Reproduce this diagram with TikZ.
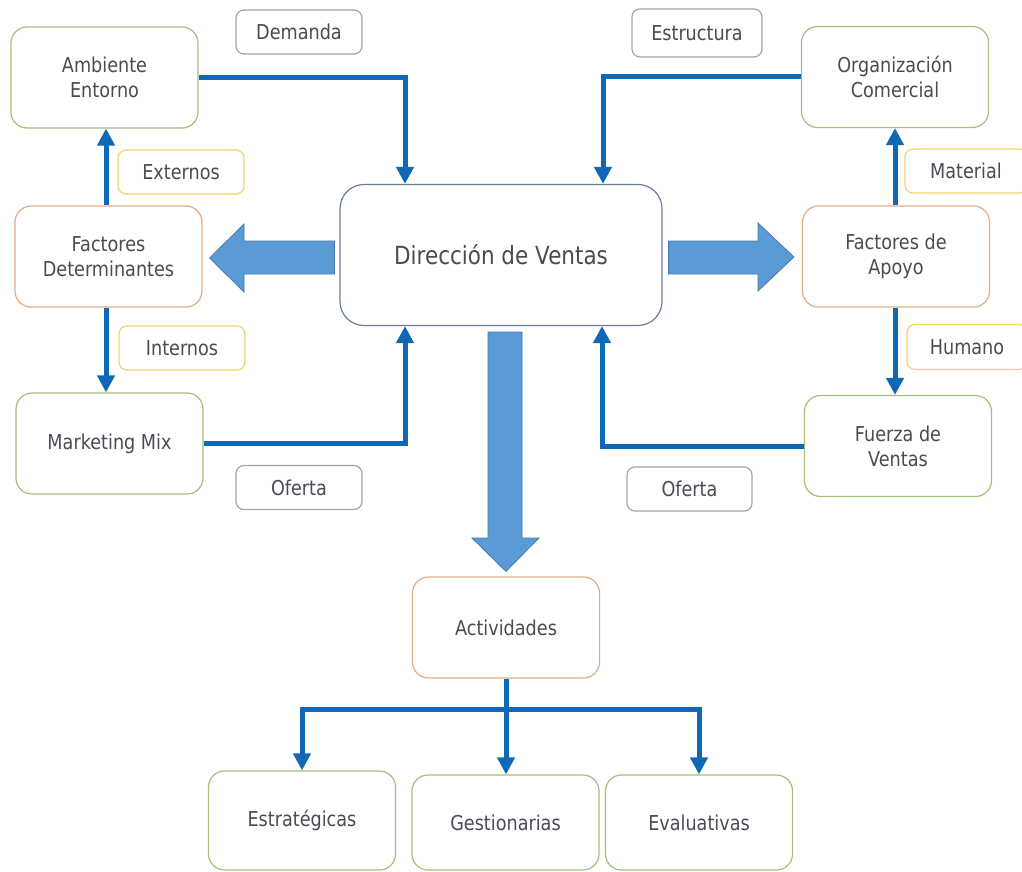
\documentclass[tikz,border=0pt]{standalone}
\usepackage{fontspec}
\setmainfont[FakeStretch=0.86]{DejaVu Sans}
\usetikzlibrary{arrows.meta,calc}

\definecolor{txt}{RGB}{72,76,84}
\definecolor{lineblue}{RGB}{16,104,180}
\definecolor{blockfill}{RGB}{91,155,213}
\definecolor{blockedge}{RGB}{70,120,170}
\definecolor{bgreen}{RGB}{165,192,125}
\definecolor{borange}{RGB}{228,172,132}
\definecolor{byellow}{RGB}{240,212,105}
\definecolor{bgray}{RGB}{165,165,165}
\definecolor{bblue}{RGB}{105,125,155}

\tikzset{
  box/.style={draw, line width=1.2pt, rounded corners=16pt, fill=white,
    text=txt, align=center, inner sep=2pt,
    font=\fontsize{20.5}{25}\selectfont},
  bigbox/.style={box, minimum width=187pt, minimum height=101pt},
  greenbox/.style={bigbox, draw=bgreen},
  orangebox/.style={bigbox, draw=borange},
  tag/.style={draw, line width=1.2pt, rounded corners=8pt, fill=white,
    text=txt, minimum width=126pt, minimum height=44pt, inner sep=2pt,
    font=\fontsize{20.5}{25}\selectfont},
  graytag/.style={tag, draw=bgray},
  yellowtag/.style={tag, draw=byellow},
  conn/.style={draw=lineblue, line width=5pt,
    -{Triangle[width=17pt,length=17pt]}},
  trunk/.style={draw=lineblue, line width=5pt},
  block/.style={fill=blockfill, draw=blockedge, line width=0.8pt}
}

\begin{document}
\begin{tikzpicture}[x=1pt,y=-1pt]
\useasboundingbox (0,0) rectangle (1022,872);
\clip (0,0) rectangle (1022,872);

% central node
\node[box, draw=bblue, rounded corners=24pt, minimum width=322pt, minimum height=141pt,
      font=\fontsize{25}{30}\selectfont] (dir) at (501,255) {Dirección de Ventas};

% left column
\node[greenbox]  (amb)  at (104.5,77.5)  {Ambiente\\Entorno};
\node[orangebox] (fdet) at (108.5,256.5) {Factores\\Determinantes};
\node[greenbox]  (mm)   at (109.5,443.5) {Marketing Mix};

% right column
\node[greenbox]  (org) at (895,77)    {Organización\\Comercial};
\node[orangebox] (fap) at (896,256.5) {Factores de\\Apoyo};
\node[greenbox]  (fv)  at (898,446)   {Fuerza de\\Ventas};

% activities
\node[orangebox] (act)  at (506,627.5) {Actividades};
\node[greenbox, minimum height=99pt] (estr) at (302,820.5)   {Estratégicas};
\node[greenbox, minimum height=95pt] (ges)  at (505.5,822.5) {Gestionarias};
\node[greenbox, minimum height=95pt] (eva)  at (699,822.5)   {Evaluativas};

% flow labels
\node[graytag]   (dem)  at (299,32)    {Demanda};
\node[graytag, minimum width=130pt, minimum height=48pt] (estrc) at (697,33) {Estructura};
\node[yellowtag] (ext)  at (181,172)   {Externos};
\node[yellowtag] (int)  at (182,348)   {Internos};
\node[graytag]   (ofl)  at (299,487.5) {Oferta};
\node[graytag, minimum width=125pt] (ofr) at (689.5,489) {Oferta};
\node[yellowtag, minimum width=122pt] (mat) at (966,171) {Material};
\node[yellowtag, minimum width=120pt, minimum height=45pt] (hum) at (967,347) {Humano};

% thin connectors
\draw[conn] (amb.east) -| ([xshift=-96pt]dir.north);
\draw[conn] (org.west) -| ([xshift=102pt]dir.north);
\draw[conn] (mm.east)  -| ([xshift=-96pt]dir.south);
\draw[conn] (fv.west)  -| ([xshift=101pt]dir.south);

\draw[conn] ([xshift=-2.5pt]fdet.north) -- ([xshift=-2.5pt]fdet.north |- amb.south);
\draw[conn] ([xshift=-2.5pt]fdet.south) -- ([xshift=-2.5pt]fdet.south |- mm.north);
\draw[conn] ([xshift=-1pt]fap.north) -- ([xshift=-1pt]fap.north |- org.south);
\draw[conn] ([xshift=-1pt]fap.south) -- ([xshift=-1pt]fap.south |- fv.north);

\coordinate (split) at ([yshift=-31pt]act.south);
\draw[trunk] (act.south) -- (split);
\draw[conn] (split) -| (estr.north);
\draw[conn] (split) -| (eva.north);
\draw[conn] (act.south) -- (act.south |- ges.north);

% block arrows
\path[block] ([xshift=-5pt,yshift=14pt]dir.west) -- (244,241) -- (244,224) -- ([xshift=7pt,yshift=-1.5pt]fdet.east)
  -- (244,292) -- (244,274) -- ([xshift=-5pt,yshift=-19pt]dir.west) -- cycle;
\path[block] ([xshift=6pt,yshift=14pt]dir.east) -- (758,241) -- (758,223) -- ([xshift=-8pt,yshift=-0.5pt]fap.west)
  -- (758,291) -- (758,274) -- ([xshift=6pt,yshift=-19pt]dir.east) -- cycle;
\path[block] (488,332) -- (522,332) -- (522,538) -- (539,538) -- ([yshift=5pt]act.north)
  -- (472,538) -- (488,538) -- cycle;
\end{tikzpicture}
\end{document}
